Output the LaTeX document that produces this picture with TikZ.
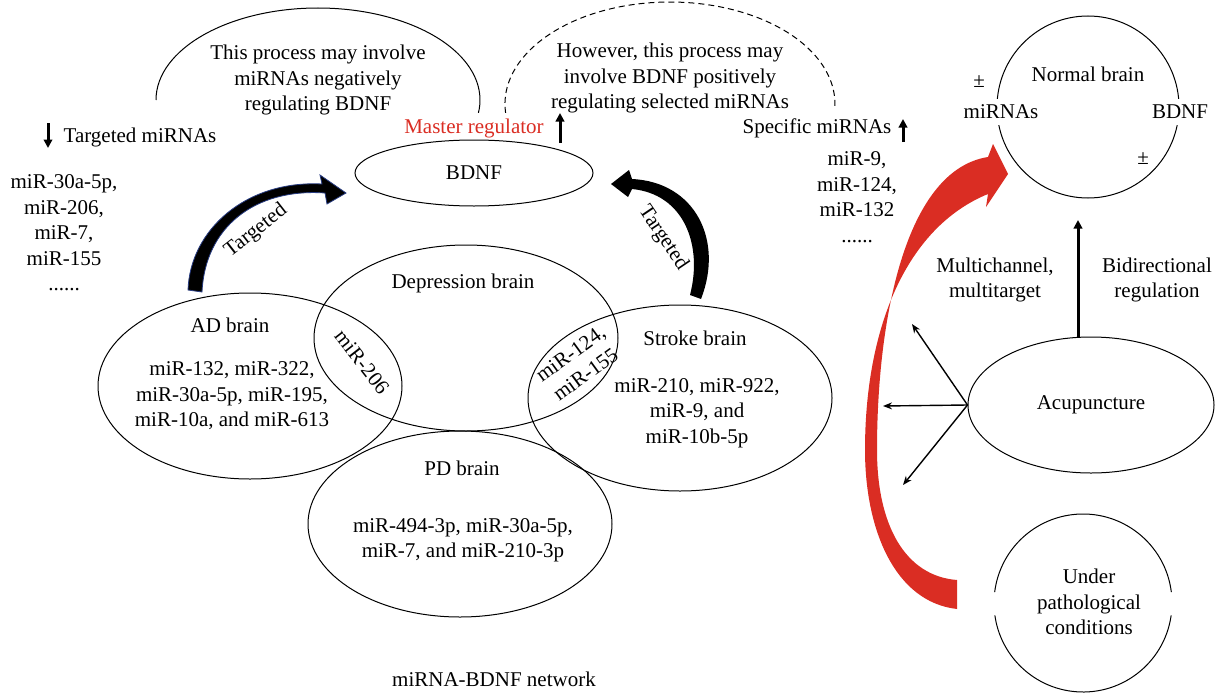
\documentclass[tikz,border=0pt]{standalone}
\usepackage{fontspec}
\setmainfont{Liberation Serif}
\usetikzlibrary{arrows.meta,shapes.geometric}
\definecolor{myred}{RGB}{218,45,35}
\definecolor{tgtblue}{RGB}{40,60,130}
\begin{document}
\begin{tikzpicture}[x=1pt,y=-1pt,
  every node/.style={font=\fontsize{21}{25.5}\selectfont, inner sep=0pt},
  txt/.style={align=center},
  venn/.style={draw, ellipse, line width=1pt, minimum width=304pt, minimum height=186pt},
  oval/.style={draw, ellipse, line width=1pt},
  thickarr/.style={line width=3pt, -{Triangle[length=8.5pt,width=8.5pt]}},
  thinarr/.style={line width=1.4pt, -{Stealth[length=9pt,width=7pt]}},
  lbl/.style={fill=white, inner sep=1pt, minimum height=26pt},
  outline/.style={line width=1pt},
]
\useasboundingbox (0,0) rectangle (1220,693);

% top arcs
\draw[outline] (156,100) arc[start angle=180, end angle=-8, x radius=162pt, y radius=92pt];
\draw[outline, dash pattern=on 6pt off 4pt] (505.6,112.9) arc[start angle=185, end angle=-1, x radius=165pt, y radius=102pt];

\node[txt] (toptxt) at (318,80) {This process may involve\\miRNAs negatively\\regulating BDNF};
\node[txt] (rtxt) at (670,78) {However, this process may\\involve BDNF positively\\regulating selected miRNAs};

% BDNF
\node[oval, minimum width=238pt, minimum height=66pt] (bdnf) at (474,173) {BDNF};
\node[text=myred] (master) at (474,128) {Master regulator};
\coordinate (ma1) at (560,143); \coordinate (ma2) at (560,113);
\draw[thickarr] (ma1) -- (ma2);

% left list
\node (tmir) at (140,137) {Targeted miRNAs};
\coordinate (ta1) at (48,123); \coordinate (ta2) at (48,148);
\draw[thickarr] (ta1) -- (ta2);
\node[txt] (llist) at (64,233) {miR-30a-5p,\\miR-206,\\miR-7,\\miR-155\\......};

% right list
\node (smir) at (817,128) {Specific miRNAs};
\coordinate (sa1) at (903,142); \coordinate (sa2) at (903,119);
\draw[thickarr] (sa1) -- (sa2);
\node[txt] (rlist) at (857,197) {miR-9,\\miR-124,\\miR-132\\......};

% Venn ellipses
\node[venn] (ad) at (250,386) {};
\node[venn] (dep) at (466,338) {};
\node[venn] (stroke) at (680,398) {};
\node[venn] (pd) at (460,524) {};

\node (adt) at (230,325) {AD brain};
\node[txt] (adl) at (232,396) {miR-132, miR-322,\\miR-30a-5p, miR-195,\\miR-10a, and miR-613};
\node[rotate=-52] (m206) at (362,362) {miR-206};
\node (dept) at (463,283) {Depression brain};
\node[txt, rotate=36] (m124) at (578,364) {miR-124,\\miR-155};
\node (strt) at (695,338) {Stroke brain};
\node[txt] (strl) at (697,413) {miR-210, miR-922,\\miR-9, and\\miR-10b-5p};
\node (pdt) at (462,468) {PD brain};
\node[txt] (pdl) at (463,540) {miR-494-3p, miR-30a-5p,\\miR-7, and miR-210-3p};

% Targeted arrows
\filldraw[fill=black, draw=tgtblue, line width=0.8pt] (188,290) .. controls (190,230) and (246,180) .. (322,184) -- (320,175) -- (346,193) -- (327,204) -- (325,193) .. controls (254,188) and (205,228) .. (202,292) -- cycle;
\node[rotate=38] (tgl) at (256,231) {Targeted};
\fill[black] (701,299) .. controls (724,240) and (695,182) .. (632,179) -- (629,170) -- (611,184) -- (628,197) -- (632,189) .. controls (684,194) and (703,245) .. (690,295) -- cycle;
\node[rotate=-56] (tgr) at (663,238) {Targeted};

% right panel
\node[draw, circle, line width=1pt, minimum size=182pt] (nb) at (1088,107) {};
\node[lbl] (nbmir) at (1001,112) {miRNAs};
\node[lbl] (nbbdnf) at (1180,112) {BDNF};
\node (nbt) at (1088,74) {Normal brain};
\node (pm1) at (979,82) {±};
\node (pm2) at (1143,159) {±};

\node[oval, minimum width=246pt, minimum height=136pt] (acu) at (1091,405) {Acupuncture};
\coordinate (up) at (1078,220);
\draw[thickarr] (acu.north -| up) -- (up);
\node[txt] (multi) at (995,280) {Multichannel,\\multitarget};
\node[txt] (bidir) at (1157,280) {Bidirectional\\regulation};

\coordinate (o1) at (912,324); \coordinate (o2) at (883,406); \coordinate (o3) at (903,485);
\draw[thinarr] (acu.west) -- (o1);
\draw[thinarr] (acu.west) -- (o2);
\draw[thinarr] (acu.west) -- (o3);

\node[circle, minimum size=178pt] (pathc) at (1083,603) {};
\draw[outline] ([shift={(7:89pt)}]pathc.center) arc[start angle=7, end angle=173, radius=89pt];
\draw[outline] ([shift={(-8:89pt)}]pathc.center) arc[start angle=-8, end angle=-172, radius=89pt];
\node[txt] (under) at (1089,602) {Under\\pathological\\conditions};

% red arrow
\fill[myred] (957,609) .. controls (895,602) and (865,530) .. (865,450)
  .. controls (865,330) and (905,228) .. (988,194)
  -- (986,207) -- (1008,174) -- (993,144) -- (988,157)
  .. controls (905,170) and (877,320) .. (877,450)
  .. controls (877,525) and (905,576) .. (957,580) -- cycle;

\node (cap) at (494,679) {miRNA-BDNF network};
\end{tikzpicture}
\end{document}
